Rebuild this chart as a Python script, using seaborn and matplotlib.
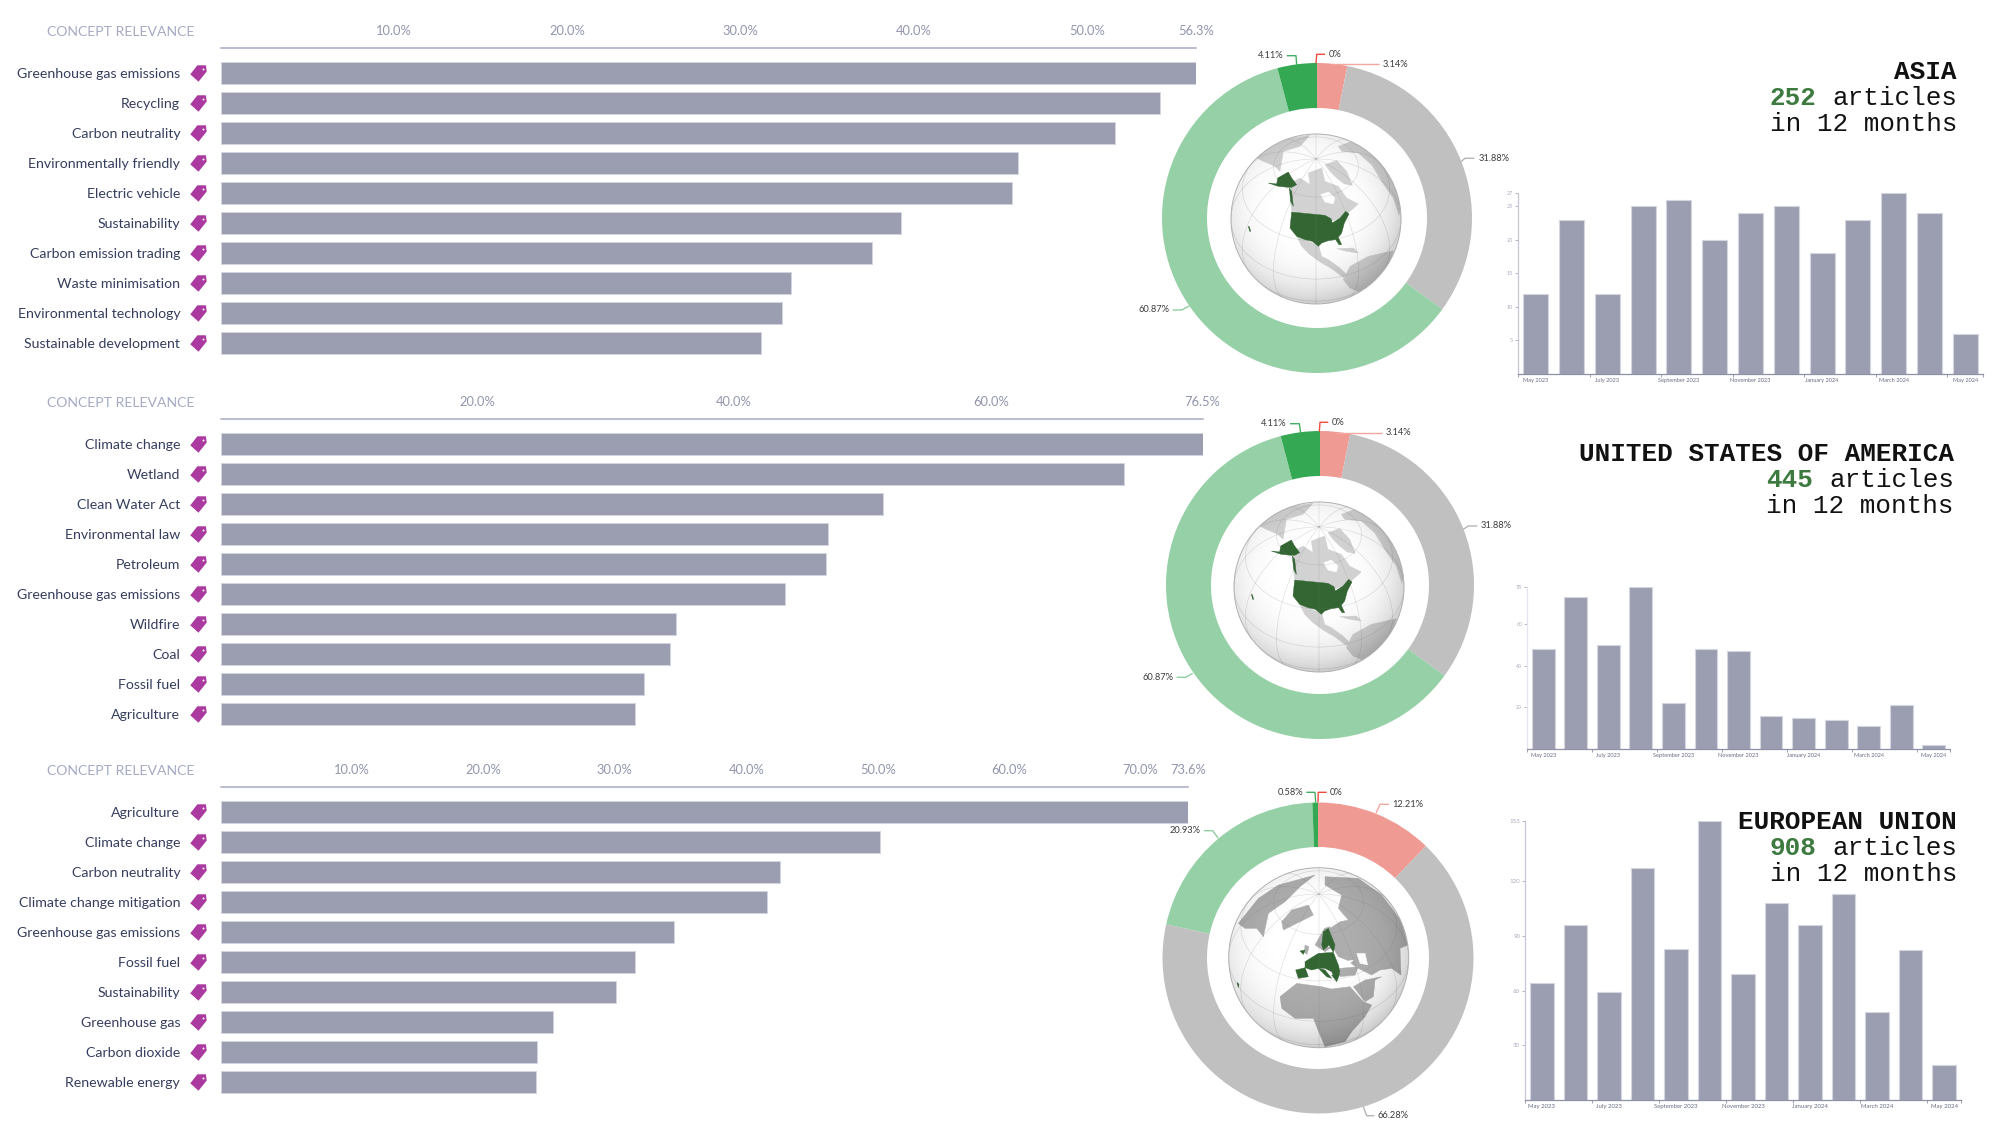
import numpy as np
import pandas as pd
import matplotlib
matplotlib.use("Agg")
import matplotlib.pyplot as plt
from matplotlib.path import Path
from matplotlib.patches import Circle, Polygon
import seaborn as sns

# concept relevance, one list per region
concepts_asia = ["Greenhouse gas emissions", "Recycling", "Carbon neutrality", "Environmentally friendly",
                 "Electric vehicle", "Sustainability", "Carbon emission trading", "Waste minimisation",
                 "Environmental technology", "Sustainable development"]
scores_asia = [56.3, 54.2, 51.6, 46.0, 45.7, 39.3, 37.6, 32.9, 32.4, 31.2]
ticks_asia = [10, 20, 30, 40, 50]

concepts_usa = ["Climate change", "Wetland", "Clean Water Act", "Environmental law", "Petroleum",
                "Greenhouse gas emissions", "Wildfire", "Coal", "Fossil fuel", "Agriculture"]
scores_usa = [76.5, 70.4, 51.6, 47.3, 47.2, 44.0, 35.5, 35.0, 33.0, 32.3]
ticks_usa = [20, 40, 60]

concepts_eu = ["Agriculture", "Climate change", "Carbon neutrality", "Climate change mitigation",
               "Greenhouse gas emissions", "Fossil fuel", "Sustainability", "Greenhouse gas",
               "Carbon dioxide", "Renewable energy"]
scores_eu = [73.6, 50.2, 42.6, 41.6, 34.5, 31.5, 30.1, 25.3, 24.1, 24.0]
ticks_eu = [10, 20, 30, 40, 50, 60, 70]

# donut slices, clockwise from the top: red, salmon, grey, light green, green
slices_asia = [0, 3.14, 31.88, 60.87, 4.11]
slices_usa = [0, 3.14, 31.88, 60.87, 4.11]
slices_eu = [0, 12.21, 66.28, 20.93, 0.58]

# articles per month
months = ["May 2023", "June 2023", "July 2023", "August 2023", "September 2023", "October 2023", "November 2023",
          "December 2023", "January 2024", "February 2024", "March 2024", "April 2024", "May 2024"]
articles_asia = [12, 23, 12, 25, 26, 20, 24, 25, 18, 23, 27, 24, 6]
articles_usa = [48, 73, 50, 78, 22, 48, 47, 16, 15, 14, 11, 21, 2]
articles_eu = [64, 96, 59, 127, 83, 153, 69, 108, 96, 113, 48, 82, 19]
yticks_asia = [5, 10, 15, 20, 25, 27]
yticks_usa = [20, 40, 60, 78]
yticks_eu = [30, 60, 90, 120, 153]

BAR = "#9b9eb0"
BAR_EDGE = "#d3d5e0"
INK = "#363e5e"
PALE = "#a5aac4"
TAG = "#aa3a9f"
SLICE_COLORS = ["#ef4b3f", "#ef9a93", "#c0c0c0", "#95d0a6", "#34a853"]
LEADER_COLORS = ["#ef4b3f", "#f4a79f", "#b5b5b5", "#8fd0a2", "#44b066"]
W, H = 2000, 1125

sns.set_theme(style="white")
plt.rcParams["font.family"] = ["Lato", "DejaVu Sans"]

fig = plt.figure(figsize=(20, 11.25), dpi=100)


def px_axes(x0, y0, x1, y1):
    return fig.add_axes([x0 / W, 1 - y1 / H, (x1 - x0) / W, (y1 - y0) / H])


# overlay in plain pixels for titles and leader lines
over = fig.add_axes([0, 0, 1, 1], zorder=10)
over.set_xlim(0, W)
over.set_ylim(H, 0)
over.axis("off")

tag_path = Path([(-1, -0.1), (0, -1), (1, 0.24), (0.9, 1), (-0.14, 1), (-1, -0.1)], closed=True)


def relevance_panel(concepts, scores, ticks, x1, line_y, first_y):
    x0 = 220.5
    pitch = 30
    ax = px_axes(x0, line_y, x1, first_y + 9.5 * pitch)
    df = pd.DataFrame({"concept": concepts, "score": scores})
    sns.barplot(data=df, y="concept", x="score", orient="h", color=BAR, saturation=1, width=0.73,
                edgecolor=BAR_EDGE, linewidth=0.7, ax=ax)
    ax.set_xlim(0, max(scores))
    ax.set_ylim(9.5, -(first_y - line_y) / pitch)
    ax.set_xlabel("")
    ax.set_ylabel("")
    ax.xaxis.tick_top()
    ax.set_xticks(ticks + [max(scores)], [f"{t:.1f}%" for t in ticks + [max(scores)]])
    ax.tick_params(axis="x", length=4, width=0.8, color="#a7abc2", labelcolor="#9296ad", labelsize=9.3, pad=4, top=True)
    ax.tick_params(axis="y", length=0, pad=29, labelsize=10.15, labelcolor=INK)
    sns.despine(ax=ax, left=True, bottom=True, right=True, top=False)
    ax.spines["top"].set_color("#a7abc2")
    ax.spines["top"].set_linewidth(1.1)
    # tag icons next to the labels
    tx = -23 / (x1 - x0)
    ys = np.arange(len(concepts))
    ax.scatter([tx] * len(ys), ys, marker=tag_path, s=140, color=TAG, linewidths=0,
               transform=ax.get_yaxis_transform(), clip_on=False, zorder=5)
    ax.scatter([tx + 5 / (x1 - x0)] * len(ys), ys - 0.15, marker="o", s=2, color="white", linewidths=0,
               transform=ax.get_yaxis_transform(), clip_on=False, zorder=6)
    over.text(47, line_y - 16, "CONCEPT RELEVANCE", color=PALE, fontsize=10.1, ha="left", va="center")


def donut(slices, cx, cy, R, inner):
    ax = px_axes(cx - R, cy - R, cx + R, cy + R)
    ax.pie(slices, colors=SLICE_COLORS, startangle=90, counterclock=False, radius=1,
           wedgeprops=dict(width=1 - inner / R, linewidth=0))
    ax.set_xlim(-1, 1)
    ax.set_ylim(-1, 1)


def leader(label, color, pts, tx, ty, ha):
    xs, ys = zip(*pts)
    over.plot(xs, ys, color=color, lw=1.0, solid_capstyle="butt")
    over.text(tx, ty, label, fontsize=6.7, color="#3c3c3c", ha=ha, va="center")


# rough coastlines, in crop pixels of the globe picture
america_land = [
    [(95, 90), (130, 55), (200, 30), (255, 22), (225, 55), (175, 70), (165, 130), (150, 115), (115, 100)],
    [(197, 165), (225, 150), (255, 170), (250, 135), (290, 120), (300, 160), (340, 175), (365, 210), (400, 228),
     (375, 250), (362, 262), (320, 280), (300, 262), (200, 250), (195, 210)],
    [(300, 110), (335, 98), (365, 130), (382, 172), (358, 168), (335, 150), (315, 130)],
    [(340, 55), (380, 40), (430, 65), (490, 120), (528, 230), (522, 262), (505, 210), (470, 160), (440, 110),
     (400, 75), (350, 70)],
    [(215, 325), (240, 335), (262, 345), (282, 355), (290, 385), (310, 395), (345, 420), (365, 440), (355, 448),
     (320, 422), (285, 402), (255, 380), (230, 355)],
    [(355, 455), (375, 415), (430, 385), (505, 368), (500, 388), (470, 440), (440, 470), (400, 490), (375, 480)],
    [(335, 362), (385, 360), (400, 375), (365, 370)],
]
america_sea = [[(287, 200), (310, 192), (330, 210), (325, 228), (300, 222)]]
america_own = [
    [(200, 252), (300, 262), (318, 272), (322, 285), (345, 270), (362, 250), (372, 258), (358, 285), (350, 315),
     (340, 328), (350, 350), (342, 350), (332, 335), (310, 338), (290, 345), (280, 355), (262, 340), (240, 335),
     (215, 325), (195, 300)],
    [(158, 150), (190, 132), (200, 150), (215, 170), (200, 178), (190, 178), (160, 175), (130, 165), (155, 168)],
    [(193, 180), (200, 190), (205, 235), (197, 220)],
    [(70, 295), (73, 296), (77, 310), (74, 310)],
]
europe_land = [
    [(40, 175), (100, 100), (160, 60), (270, 30), (225, 65), (180, 110), (130, 145), (115, 215), (95, 190), (60, 190)],
    [(170, 170), (200, 135), (250, 120), (265, 150), (225, 170), (175, 195)],
    [(300, 35), (400, 40), (470, 90), (530, 170), (548, 240), (525, 250), (528, 330), (500, 310), (465, 315),
     (440, 330), (400, 310), (385, 300), (365, 285), (340, 275), (325, 250), (315, 190), (345, 170), (370, 165),
     (340, 130), (350, 90), (300, 60)],
    [(270, 240), (298, 190), (315, 185), (330, 240), (300, 260)],
    [(345, 310), (400, 305), (390, 330), (345, 335)],
    [(385, 365), (420, 345), (470, 335), (450, 345), (445, 395), (420, 410)],
    [(165, 395), (215, 355), (290, 365), (320, 372), (375, 365), (415, 410), (440, 420), (420, 455), (380, 500),
     (360, 530), (300, 545), (285, 510), (265, 460), (210, 460), (170, 430)],
    [(240, 240), (252, 245), (246, 268), (238, 262)],
]
europe_sea = [
    [(395, 265), (420, 265), (428, 300), (405, 295)],
    [(345, 292), (385, 285), (365, 305), (340, 305)],
    [(300, 200), (310, 245), (318, 245), (312, 205)],
]
europe_own = [
    [(212, 315), (240, 308), (250, 335), (220, 340)],
    [(240, 290), (280, 265), (325, 262), (340, 300), (345, 320), (330, 340), (320, 320), (300, 310), (280, 310),
     (260, 315), (240, 308)],
    [(280, 310), (300, 315), (320, 340), (305, 335)],
    [(290, 240), (295, 200), (310, 190), (330, 240), (325, 262), (312, 240), (295, 255)],
    [(225, 258), (240, 255), (235, 268)],
    [(320, 330), (345, 325), (335, 350)],
    [(36, 352), (42, 358), (40, 368)],
]


def globe(cx, cy, r, land, sea, own, crop_c, crop_r, land_color):
    ax = px_axes(cx - r - 2, cy - r - 2, cx + r + 2, cy + r + 2)
    lim = (r + 2) / r
    ax.set_xlim(-lim, lim)
    ax.set_ylim(-lim, lim)
    ax.axis("off")
    clip = Circle((0, 0), 1, transform=ax.transData)

    def shape(points, color, z):
        pts = [((x - crop_c[0]) / crop_r, (crop_c[1] - y) / crop_r) for x, y in points]
        p = Polygon(pts, closed=True, facecolor=color, edgecolor=color, lw=0.3, zorder=z)
        ax.add_patch(p)
        p.set_clip_path(clip)

    bg = ax.imshow(np.ones((4, 4)), extent=(-1, 1, -1, 1), cmap="gray", vmin=0, vmax=1, zorder=1, aspect="auto")
    bg.set_clip_path(clip)
    for pts in land:
        shape(pts, land_color, 2)
    for pts in sea:
        shape(pts, "white", 3)
    for pts in own:
        shape(pts, "#336633", 4)

    # graticule, tilted 45 degrees
    t = np.radians(45)
    lat = np.radians(np.linspace(-90, 90, 90))
    for lon in np.radians(np.arange(0, 360, 30)):
        x = np.cos(lat) * np.sin(lon)
        y = np.cos(t) * np.sin(lat) - np.sin(t) * np.cos(lat) * np.cos(lon)
        z = np.sin(t) * np.sin(lat) + np.cos(t) * np.cos(lat) * np.cos(lon)
        ax.plot(np.where(z > 0, x, np.nan), np.where(z > 0, y, np.nan), color="#777777", lw=0.35, alpha=0.3, zorder=5)
    lon = np.radians(np.linspace(0, 360, 180))
    for la in np.radians([-30, 0, 30, 60]):
        x = np.cos(la) * np.sin(lon)
        y = np.cos(t) * np.sin(la) - np.sin(t) * np.cos(la) * np.cos(lon)
        z = np.sin(t) * np.sin(la) + np.cos(t) * np.cos(la) * np.cos(lon)
        ax.plot(np.where(z > 0, x, np.nan), np.where(z > 0, y, np.nan), color="#777777", lw=0.35, alpha=0.3, zorder=5)

    # soft shading towards the rim
    gx, gy = np.meshgrid(np.linspace(-1, 1, 300), np.linspace(1, -1, 300))
    d = np.hypot(gx + 0.08, gy - 0.15) / 1.15
    shade = np.zeros((300, 300, 4))
    shade[..., 3] = 0.2 * np.clip(d, 0, 1) ** 4
    im = ax.imshow(shade, extent=(-1, 1, -1, 1), zorder=6, aspect="auto")
    im.set_clip_path(clip)
    ax.set_xlim(-lim, lim)
    ax.set_ylim(-lim, lim)
    ax.add_patch(Circle((0, 0), 1, fill=False, edgecolor="#b0b0b0", lw=0.7, zorder=7))


def monthly_panel(values, yticks, x0, y0, x1, y1, ysize, yspine, sz):
    ax = px_axes(x0, y0, x1, y1)
    df = pd.DataFrame({"month": months, "articles": values})
    sns.barplot(data=df, x="month", y="articles", color=BAR, saturation=1, width=0.7,
                edgecolor=BAR_EDGE, linewidth=0.8, ax=ax)
    ax.set_xlim(-0.5, 12.5)
    ax.set_ylim(0, max(values))
    ax.set_xlabel("")
    ax.set_ylabel("")
    ax.set_yticks(yticks, [str(v) for v in yticks])
    ax.set_xticks(range(0, 13, 2), months[::2])
    ax.set_xticks([i - 0.5 for i in range(0, 14, 2)] + [12.5], minor=True)
    ax.tick_params(axis="x", which="major", length=0, pad=3, labelsize=sz, labelcolor="#686c84", bottom=True)
    ax.tick_params(axis="x", which="minor", length=2.2, width=0.6, color="#8e91a5", bottom=True)
    ax.tick_params(axis="y", length=2, width=0.6, pad=1.5, labelsize=ysize, labelcolor="#a8abbd", color="#a8abbd", left=True)
    sns.despine(ax=ax)
    ax.spines["left"].set_color(yspine)
    ax.spines["left"].set_linewidth(0.9)
    ax.spines["bottom"].set_color("#8e91a5")
    ax.spines["bottom"].set_linewidth(0.9)


def headline(name, count, right, y):
    size = 18.75
    char = size * 0.6 * 100 / 72
    kw = dict(family=["Liberation Mono", "DejaVu Sans Mono"], fontsize=size, color="#111111", ha="right", va="center")
    over.text(right, y, name, fontweight="bold", **kw)
    over.text(right, y + 26, "articles", **kw)
    kw_count = dict(kw, color="#3c7a3f")
    over.text(right - 9 * char, y + 26, count, fontweight="bold", **kw_count)
    over.text(right, y + 52, "in 12 months", **kw)


relevance_panel(concepts_asia, scores_asia, ticks_asia, 1196, 48.3, 73)
relevance_panel(concepts_usa, scores_usa, ticks_usa, 1202.5, 419, 444.2)
relevance_panel(concepts_eu, scores_eu, ticks_eu, 1188, 787.3, 812.2)

donut(slices_asia, 1317, 218, 155, 110)
donut(slices_usa, 1320, 585, 154, 109)
donut(slices_eu, 1318, 958, 155.5, 111)

globe(1316, 219, 85, america_land, america_sea, america_own, (273, 273), 255, "#d2d2d2")
globe(1319, 587, 85, america_land, america_sea, america_own, (273, 273), 255, "#d2d2d2")
globe(1318.7, 957.7, 90, europe_land, europe_sea, europe_own, (281, 278), 270, "#adadad")

leader("4.11%", LEADER_COLORS[4], [(1286.7, 55.7), (1296, 55.7), (1296.7, 65)], 1283.3, 55.7, "right")
leader("0%", LEADER_COLORS[0], [(1325, 54.3), (1316.7, 54.3), (1316, 63.3)], 1328.3, 54.3, "left")
leader("3.14%", LEADER_COLORS[1], [(1379.3, 64.3), (1331.7, 64.3)], 1382.7, 64.3, "left")
leader("31.88%", LEADER_COLORS[2], [(1474.3, 158.3), (1465, 158.3), (1461, 161.7)], 1478.3, 158.3, "left")
leader("60.87%", LEADER_COLORS[3], [(1172.7, 310), (1181.7, 310), (1189.3, 306)], 1169.3, 310, "right")

leader("4.11%", LEADER_COLORS[4], [(1290, 423.7), (1299.3, 423.7), (1300.7, 433.3)], 1286.7, 423.7, "right")
leader("0%", LEADER_COLORS[0], [(1328.3, 422.3), (1320, 422.3), (1319.3, 431.7)], 1331.7, 422.3, "left")
leader("3.14%", LEADER_COLORS[1], [(1381.7, 432.7), (1335, 432.7)], 1385.7, 432.3, "left")
leader("31.88%", LEADER_COLORS[2], [(1477.3, 526), (1468.3, 526), (1463.3, 529.3)], 1480.7, 526, "left")
leader("60.87%", LEADER_COLORS[3], [(1176.7, 677.3), (1185.7, 677.3), (1192.7, 673.3)], 1173.3, 677.3, "right")

leader("0.58%", LEADER_COLORS[4], [(1306.3, 792.3), (1315, 792.3), (1315.7, 802.3)], 1303, 792.3, "right")
leader("0%", LEADER_COLORS[0], [(1326.7, 792.3), (1318.3, 792.3), (1318, 802.3)], 1330, 792.3, "left")
leader("12.21%", LEADER_COLORS[1], [(1389, 804.3), (1380, 804.3), (1376, 813.3)], 1392.3, 804.3, "left")
leader("20.93%", LEADER_COLORS[3], [(1204, 830.7), (1212.7, 830.7), (1218.3, 838.3)], 1200.7, 830.7, "right")
leader("66.28%", LEADER_COLORS[2], [(1374.3, 1115.7), (1366.7, 1115.7), (1363.3, 1106.7)], 1377.7, 1115.7, "left")

monthly_panel(articles_asia, yticks_asia, 1518, 193, 1983, 374, 3.9, "#c5c7d6", 4.1)
monthly_panel(articles_usa, yticks_usa, 1527, 587, 1950, 749, 3.7, "#e4e5ee", 4.1)
monthly_panel(articles_eu, yticks_eu, 1525, 821, 1961, 1100, 4.4, "#c5c7d6", 4.3)

headline("ASIA", "252", 1957, 72)
headline("UNITED STATES OF AMERICA", "445", 1954, 454)
headline("EUROPEAN UNION", "908", 1957, 822)

fig.savefig("out.png", dpi=100, facecolor="white")
